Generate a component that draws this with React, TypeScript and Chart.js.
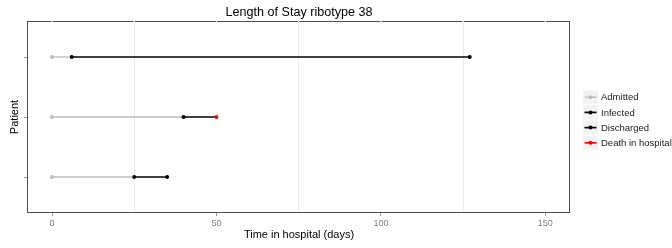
import React, { useEffect, useRef } from 'react';
import { Chart, registerables } from 'chart.js';

Chart.register(...registerables);

// ---- data ----
const patients = [1, 2, 3];
const admittedDay: (number | null)[] = [0, 0, 0];
const infectedDay: (number | null)[] = [25, 40, 6];
const dischargedDay: (number | null)[] = [35, null, 127];
const deathDay: (number | null)[] = [null, 50, null];

const seriesNames = ['Admitted', 'Infected', 'Discharged', 'Death in hospital'];
const seriesColors = ['#bdbdbd', '#000000', '#000000', '#ff0000'];

const xMajorTicks = [0, 50, 100, 150];
const xMinorTicks = [25, 75, 125];
const xRange = [-7.3, 157.5];
const yRange = [0.4, 3.6];

const chartTitle = 'Length of Stay ribotype 38';
const xTitle = 'Time in hospital (days)';
const yTitle = 'Patient';

const FONT = "'Liberation Sans', Arial, Helvetica, sans-serif";

function pointsOf(vals: (number | null)[]) {
  const out: { x: number; y: number }[] = [];
  patients.forEach((p, i) => {
    const v = vals[i];
    if (v !== null && v !== undefined) out.push({ x: v, y: p });
  });
  return out;
}

const panelPlugin = {
  id: 'panelAndLegend',
  afterDraw(chart: any) {
    const { ctx, chartArea } = chart;
    const { left, top, right, bottom } = chartArea;
    const xs = chart.scales.x;
    ctx.save();
    // panel border
    ctx.strokeStyle = '#4d4d4d';
    ctx.lineWidth = 1;
    ctx.strokeRect(left - 0.5, top + 0.5, right - left, bottom - top - 1);
    // small white gaps where grid lines meet the top border
    ctx.fillStyle = '#ffffff';
    [...xMajorTicks, ...xMinorTicks].forEach((v) => {
      const px = xs.getPixelForValue(v);
      ctx.fillRect(px - 0.6, top - 0.5, 1.2, 2);
    });

    // legend
    const rowH = 15.2;
    const keyW = 15;
    const keyH = 14;
    const keyLeft = right + 13;
    const textX = keyLeft + 18;
    const startY = (top + bottom) / 2 + 3 - 1.5 * rowH;
    ctx.font = `9.5px ${FONT}`;
    ctx.textBaseline = 'middle';
    ctx.textAlign = 'left';
    seriesNames.forEach((name, i) => {
      const cy = startY + i * rowH;
      ctx.fillStyle = '#f2f2f2';
      ctx.fillRect(keyLeft, cy - keyH / 2, keyW, keyH);
      ctx.strokeStyle = seriesColors[i];
      ctx.lineWidth = i === 0 ? 1.4 : 1.7;
      ctx.beginPath();
      ctx.moveTo(keyLeft + 1.5, cy);
      ctx.lineTo(keyLeft + keyW - 1.5, cy);
      ctx.stroke();
      ctx.fillStyle = seriesColors[i];
      ctx.beginPath();
      ctx.arc(keyLeft + keyW / 2, cy, 2, 0, Math.PI * 2);
      ctx.fill();
      ctx.fillStyle = '#1a1a1a';
      ctx.fillText(name, textX, cy + 0.5);
    });
    ctx.restore();
  },
};

export default function App() {
  const canvasRef = useRef<HTMLCanvasElement | null>(null);

  useEffect(() => {
    if (!canvasRef.current) return;
    Chart.defaults.font.family = FONT;
    Chart.defaults.color = '#000000';

    const grayLines = patients.map((p, i) => ({
      label: `adm-${p}`,
      data: [
        { x: admittedDay[i] as number, y: p },
        { x: infectedDay[i] as number, y: p },
      ],
      showLine: true,
      borderColor: seriesColors[0],
      borderWidth: 1.4,
      pointRadius: 0,
      order: 3,
    }));
    const blackLines = patients.map((p, i) => {
      const end = dischargedDay[i] !== null ? dischargedDay[i] : deathDay[i];
      return {
        label: `inf-${p}`,
        data: [
          { x: infectedDay[i] as number, y: p },
          { x: end as number, y: p },
        ],
        showLine: true,
        borderColor: '#000000',
        borderWidth: 1.7,
        pointRadius: 0,
        order: 2,
      };
    });
    const pointSets = [admittedDay, infectedDay, dischargedDay, deathDay].map((vals, k) => ({
      label: seriesNames[k],
      data: pointsOf(vals),
      showLine: false,
      pointRadius: 2,
      pointBorderWidth: 0,
      pointBackgroundColor: seriesColors[k],
      pointBorderColor: seriesColors[k],
      order: 1,
    }));

    const chart = new Chart(canvasRef.current, {
      type: 'scatter',
      data: { datasets: [...grayLines, ...blackLines, ...pointSets] as any },
      plugins: [panelPlugin],
      options: {
        animation: false,
        responsive: false,
        maintainAspectRatio: false,
        layout: { padding: { left: 0, right: 102, top: 0, bottom: 0 } },
        plugins: {
          legend: { display: false },
          tooltip: { enabled: false },
          title: {
            display: true,
            text: chartTitle,
            fullSize: false,
            color: '#000000',
            font: { size: 12.6, weight: 'normal', family: FONT },
            padding: { top: 5, bottom: 0.9 },
          },
        },
        scales: {
          x: {
            type: 'linear',
            min: xRange[0],
            max: xRange[1],
            afterBuildTicks: (s: any) => {
              s.ticks = [...xMajorTicks, ...xMinorTicks]
                .sort((a, b) => a - b)
                .map((v) => ({ value: v }));
            },
            afterFit: (s: any) => {
              s.height = 35;
            },
            ticks: {
              callback: (v: any) => (xMajorTicks.includes(Number(v)) ? String(v) : ''),
              color: '#7f7f7f',
              font: { size: 9 },
              padding: 2,
              maxRotation: 0,
              autoSkip: false,
            },
            grid: {
              color: (c: any) =>
                c.tick && xMinorTicks.includes(c.tick.value) ? '#ebebeb' : 'rgba(0,0,0,0)',
              tickColor: (c: any) =>
                c.tick && xMajorTicks.includes(c.tick.value) ? '#9a9a9a' : 'rgba(0,0,0,0)',
              tickLength: 3,
              lineWidth: 1,
            },
            border: { display: false },
            title: {
              display: true,
              text: xTitle,
              color: '#000000',
              font: { size: 11 },
              padding: { top: 0, bottom: 6.4 },
            },
          },
          y: {
            type: 'linear',
            min: yRange[0],
            max: yRange[1],
            afterBuildTicks: (s: any) => {
              s.ticks = patients.map((v) => ({ value: v }));
            },
            afterFit: (s: any) => {
              s.width = 28;
            },
            ticks: { callback: () => '', padding: 0 },
            grid: {
              color: 'rgba(0,0,0,0)',
              tickColor: '#9a9a9a',
              tickLength: 4,
            },
            border: { display: false },
            title: {
              display: true,
              text: yTitle,
              color: '#000000',
              font: { size: 11 },
              padding: { top: 8.4, bottom: 0 },
            },
          },
        },
      } as any,
    });
    return () => chart.destroy();
  }, []);

  return (
    <div style={{ position: 'fixed', left: 0, top: 0, width: 672, height: 248, background: '#ffffff' }}>
      <canvas ref={canvasRef} width={672} height={248} style={{ width: 672, height: 248, display: 'block' }} />
    </div>
  );
}
